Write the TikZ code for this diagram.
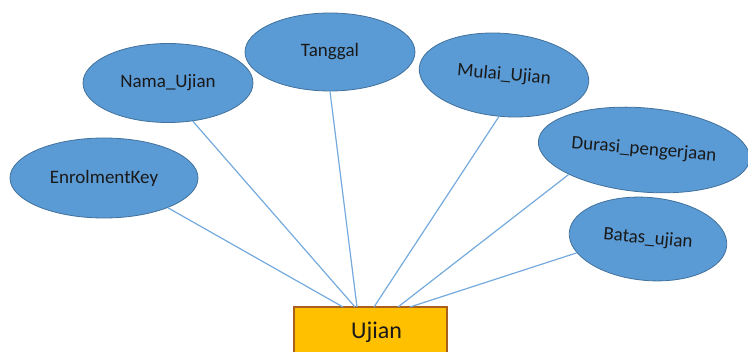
\documentclass[tikz,border=0pt]{standalone}
\usepackage{fontspec}
\setmainfont{Carlito}
\usetikzlibrary{shapes.geometric}
\definecolor{attrfill}{HTML}{5B9BD5}
\definecolor{attrline}{HTML}{41719C}
\definecolor{linkcol}{HTML}{74AADD}
\definecolor{entfill}{HTML}{FFC000}
\definecolor{entline}{HTML}{A8601C}
\tikzset{
  attr/.style={ellipse,draw=attrline,fill=attrfill,line width=0.8pt,inner sep=0pt,
    text=black!90,font=\fontsize{19}{22}\selectfont},
  ent/.style={rectangle,draw=entline,fill=entfill,line width=1.2pt,inner sep=0pt,
    minimum width=153,minimum height=50,text=black!90,font=\fontsize{24}{28}\selectfont}
}

\begin{document}
\begin{tikzpicture}[x=1pt,y=-1pt]
\useasboundingbox (0,0) rectangle (748,352);
% attributes
\node[attr,minimum width=188,minimum height=80] (K) at (104,178) {EnrolmentKey};
\node[attr,minimum width=170,minimum height=79] (N) at (168,83) {Nama\_Ujian};
\node[attr,minimum width=170,minimum height=78] (T) at (330,52) {Tanggal};
\node[attr,minimum width=170,minimum height=83,rotate=-5] (M) at (504,75) {Mulai\_Ujian};
\node[attr,minimum width=212,minimum height=84,rotate=-5] (D) at (644,150) {Durasi\_pengerjaan};
\node[attr,minimum width=158,minimum height=83,rotate=-5] (B) at (648,239) {Batas\_ujian};
% entity
\node[ent] (U) at (370.5,332) {\hspace*{12pt}Ujian};
%\node (X) at (370,300) {};
\coordinate (u1) at (343,307);
\coordinate (u2) at (355,307);
\coordinate (u3) at (357,307);
\coordinate (u4) at (374,307);
\coordinate (u5) at (398,307);
\coordinate (u6) at (410,307);
\path[draw=linkcol,line width=1.2pt]
(K.-25) edge (u1)
(N.-57) edge (u2)
(T.south) edge (u3)
(M.-92) edge (u4)
(D.-157) edge (u5)
(B.-164) edge (u6);
\end{tikzpicture}
\end{document}
